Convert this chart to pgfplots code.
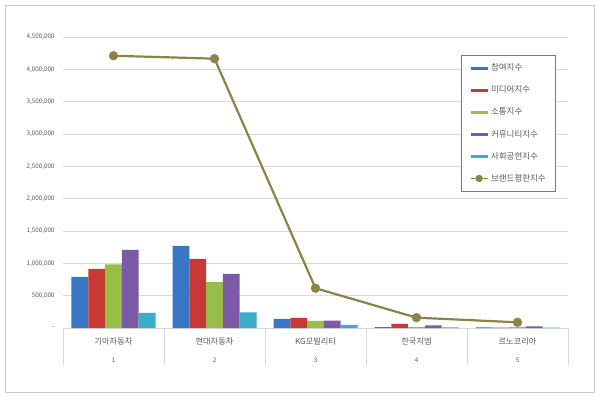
\documentclass[border=0pt]{standalone}
\usepackage{pgfplots}
\pgfplotsset{compat=1.18}
\usepackage{fontspec}
\setmainfont{Noto Sans CJK KR}
\definecolor{cBlue}{RGB}{58,118,196}
\definecolor{cRed}{RGB}{200,56,52}
\definecolor{cGreen}{RGB}{152,190,72}
\definecolor{cPurple}{RGB}{125,90,165}
\definecolor{cCyan}{RGB}{60,172,200}
\definecolor{cOlive}{RGB}{138,132,72}
\definecolor{cGrid}{RGB}{217,217,217}
\definecolor{cText}{RGB}{89,89,89}
\begin{document}
\begin{tikzpicture}
\path[use as bounding box] (0,0) rectangle (600bp,398bp);
\draw[color={rgb,255:red,200;green,200;blue,200}] (5bp,6bp) rectangle (594bp,393bp);
\begin{axis}[
  at={(63bp,70bp)}, anchor=south west,
  scale only axis, width=505bp, height=291bp,
  xmin=0.5, xmax=5.5, ymin=0, ymax=4500000,
  axis x line*=bottom, axis y line*=left,
  x axis line style={cGrid,-}, y axis line style={draw=none},
  ymajorgrids, grid style={cGrid},
  ytick={0,500000,1000000,1500000,2000000,2500000,3000000,3500000,4000000,4500000},
  yticklabels={-,{500,000},{1,000,000},{1,500,000},{2,000,000},{2,500,000},{3,000,000},{3,500,000},{4,000,000},{4,500,000}},
  scaled y ticks=false,
  yticklabel style={font=\fontsize{6.3}{7}\selectfont, text=cText, xshift=-5bp},
  ytick style={draw=none},
  xtick={1,2,3,4,5},
  xticklabels={{기아자동차\\[9bp]{\fontsize{6.3}{7}\selectfont 1}},{현대자동차\\[9bp]{\fontsize{6.3}{7}\selectfont 2}},{KG모빌리티\\[9bp]{\fontsize{6.3}{7}\selectfont 3}},{한국지엠\\[9bp]{\fontsize{6.3}{7}\selectfont 4}},{르노코리아\\[9bp]{\fontsize{6.3}{7}\selectfont 5}}},
  xticklabel style={align=center, font=\fontsize{8.2}{9}\selectfont, text=cText, yshift=-6.5bp},
  x tick style={draw=none},
  legend style={at={(rel axis cs:0.788,0.938)}, anchor=north west, draw={rgb,255:red,120;green,120;blue,120}, fill=white,
    font=\fontsize{8.5}{9}\selectfont, text=cText, row sep=9.6bp, inner xsep=8bp, inner ysep=6.5bp, cells={anchor=west}},
  legend cell align=left,
  clip=false,
]
\addplot[ybar, bar width=16.8bp, bar shift=-33.6bp, fill=cBlue, draw=none,
  legend image code/.code={\draw[cBlue, line width=3bp] (0bp,0bp) -- (17bp,0bp);}]
  coordinates {(1,790000) (2,1270000) (3,140000) (4,12000) (5,10000)};
\addplot[ybar, bar width=16.8bp, bar shift=-16.8bp, fill=cRed, draw=none,
  legend image code/.code={\draw[cRed, line width=3bp] (0bp,0bp) -- (17bp,0bp);}]
  coordinates {(1,915000) (2,1070000) (3,155000) (4,65000) (5,5000)};
\addplot[ybar, bar width=16.8bp, bar shift=0bp, fill=cGreen, draw=none,
  legend image code/.code={\draw[cGreen, line width=3bp] (0bp,0bp) -- (17bp,0bp);}]
  coordinates {(1,985000) (2,715000) (3,110000) (4,15000) (5,12000)};
\addplot[ybar, bar width=16.8bp, bar shift=16.8bp, fill=cPurple, draw=none,
  legend image code/.code={\draw[cPurple, line width=3bp] (0bp,0bp) -- (17bp,0bp);}]
  coordinates {(1,1210000) (2,836000) (3,115000) (4,40000) (5,25000)};
\addplot[ybar, bar width=16.8bp, bar shift=33.6bp, fill=cCyan, draw=none,
  legend image code/.code={\draw[cCyan, line width=3bp] (0bp,0bp) -- (17bp,0bp);}]
  coordinates {(1,235000) (2,240000) (3,50000) (4,10000) (5,5000)};
\addplot[cOlive, line width=2.2bp, mark=*, mark size=3.5bp, mark options={fill=cOlive, draw=cOlive},
  legend image code/.code={\draw[cOlive, line width=1.5bp] (0bp,0bp) -- (17bp,0bp); \fill[cOlive] (8.5bp,0bp) circle (2.5bp);}]
  coordinates {(1,4210000) (2,4165000) (3,615000) (4,160000) (5,88000)};
\legend{참여지수,미디어지수,소통지수,커뮤니티지수,사회공헌지수,브랜드평판지수}
\pgfplotsinvokeforeach{0.5,1.5,2.5,3.5,4.5,5.5}{
  \draw[cGrid] (axis cs:#1,0) -- ++(0pt,-37bp);
}
\end{axis}
\end{tikzpicture}
\end{document}
